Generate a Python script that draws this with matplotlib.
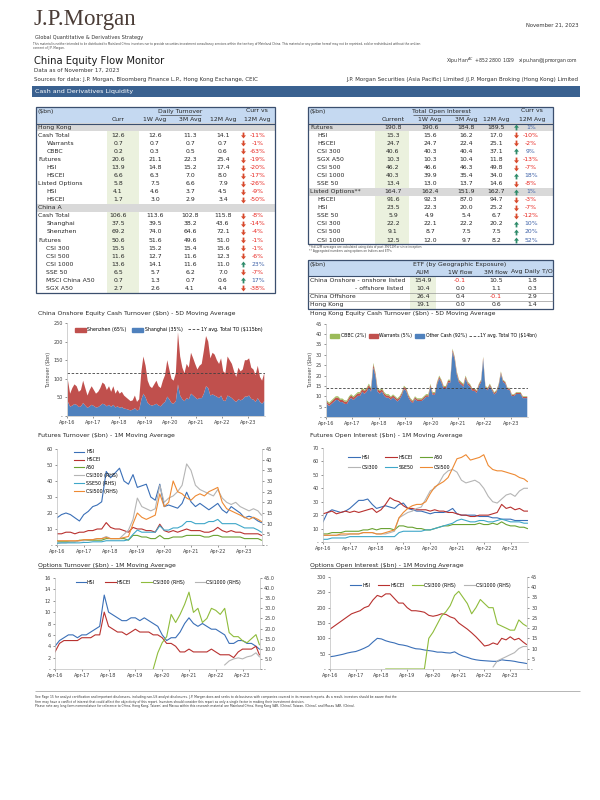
import numpy as np
import pandas as pd
import matplotlib
matplotlib.use("Agg")
import matplotlib.pyplot as plt
import matplotlib.dates as mdates
from matplotlib.patches import Rectangle, Patch
from matplotlib.lines import Line2D
from matplotlib.ticker import FuncFormatter, MultipleLocator

# ---------------------------------------------------------------- data
hk_rows = ["Cash Total", "Warrants", "CBBC", "Futures", "HSI", "HSCEI", "Listed Options", "HSI", "HSCEI"]
hk_level = [0, 1, 1, 0, 1, 1, 0, 1, 1]
hk_vals = [[12.6, 12.6, 11.3, 14.1], [0.7, 0.7, 0.7, 0.7], [0.2, 0.3, 0.5, 0.6], [20.6, 21.1, 22.3, 25.4],
           [13.9, 14.8, 15.2, 17.4], [6.6, 6.3, 7.0, 8.0], [5.8, 7.5, 6.6, 7.9], [4.1, 4.6, 3.7, 4.5],
           [1.7, 3.0, 2.9, 3.4]]
hk_pct = [-11, -1, -63, -19, -20, -17, -26, -9, -50]

ca_rows = ["Cash Total", "Shanghai", "Shenzhen", "Futures", "CSI 300", "CSI 500", "CSI 1000", "SSE 50",
           "MSCI China A50", "SGX A50"]
ca_level = [0, 1, 1, 0, 1, 1, 1, 1, 1, 1]
ca_vals = [[106.6, 113.6, 102.8, 115.8], [37.5, 39.5, 38.2, 43.6], [69.2, 74.0, 64.6, 72.1],
           [50.6, 51.6, 49.6, 51.0], [15.5, 15.2, 15.4, 15.6], [11.6, 12.7, 11.6, 12.3],
           [13.6, 14.1, 11.6, 11.0], [6.5, 5.7, 6.2, 7.0], [0.7, 1.3, 0.7, 0.6], [2.7, 2.6, 4.1, 4.4]]
ca_pct = [-8, -14, -4, -1, -1, -6, 23, -7, 17, -38]

oi_rows = ["Futures", "HSI", "HSCEI", "CSI 300", "SGX A50", "CSI 500", "CSI 1000", "SSE 50",
           "Listed Options**", "HSCEI", "HSI", "SSE 50", "CSI 300", "CSI 500", "CSI 1000"]
oi_level = [0, 1, 1, 1, 1, 1, 1, 1, 0, 1, 1, 1, 1, 1, 1]
oi_vals = [[190.8, 190.6, 184.8, 189.5], [15.3, 15.6, 16.2, 17.0], [24.7, 24.7, 22.4, 25.1],
           [40.6, 40.3, 40.4, 37.1], [10.3, 10.3, 10.4, 11.8], [46.2, 46.6, 46.3, 49.8],
           [40.3, 39.9, 35.4, 34.0], [13.4, 13.0, 13.7, 14.6], [164.7, 162.4, 151.9, 162.7],
           [91.6, 92.3, 87.0, 94.7], [23.5, 22.3, 20.0, 25.2], [5.9, 4.9, 5.4, 6.7],
           [22.2, 22.1, 22.2, 20.2], [9.1, 8.7, 7.5, 7.5], [12.5, 12.0, 9.7, 8.2]]
oi_pct = [1, -10, -2, 9, -13, -7, 18, -8, 1, -3, -7, -12, 10, 20, 52]

etf_rows = ["China Onshore - onshore listed", "- offshore listed", "China Offshore", "Hong Kong"]
etf_vals = [[154.9, -0.1, 10.5, 1.8], [10.4, 0.0, 1.1, 0.3], [26.4, 0.4, -0.1, 2.9], [19.1, 0.0, 0.6, 1.4]]

# China onshore cash turnover, monthly (Apr-16 .. Nov-23), $bn
shanghai = [38, 25, 28, 32, 30, 24, 26, 35, 28,
            22, 26, 30, 27, 23, 24, 28, 33, 31, 26, 30, 25,
            30, 23, 26, 22, 24, 20, 19, 17, 15, 17, 21, 15,
            17, 45, 60, 50, 35, 30, 28, 30, 33, 28, 26, 33,
            38, 52, 45, 35, 33, 40, 85, 55, 45, 40, 48, 45,
            60, 55, 50, 45, 48, 48, 60, 80, 75, 55, 58, 55,
            52, 48, 55, 42, 40, 55, 52, 48, 42, 38, 45, 42,
            45, 52, 52, 55, 46, 44, 38, 48, 38, 33, 40]
shenzhen = [57, 35, 47, 53, 50, 41, 44, 60, 47,
            33, 44, 50, 43, 37, 41, 47, 57, 54, 44, 50, 40,
            50, 37, 44, 38, 41, 35, 31, 28, 25, 25, 34, 23,
            28, 75, 100, 85, 60, 50, 47, 55, 62, 52, 49, 62,
            72, 98, 80, 65, 62, 75, 140, 105, 85, 75, 92, 85,
            110, 100, 90, 80, 87, 92, 115, 135, 125, 100, 112, 110,
            98, 92, 100, 78, 75, 105, 98, 92, 78, 67, 85, 78,
            80, 98, 98, 100, 84, 81, 72, 87, 67, 62, 75]
cn_avg = 115

# Hong Kong cash turnover, monthly, $bn
hk_other = [6.3, 5.3, 6.3, 7.2, 8.2, 8.2, 7.2, 7.2, 6.3,
            6.3, 8.2, 9.2, 8.2, 9.2, 10.2, 10.2, 12.2, 11.2, 12.2, 14.2, 12.2,
            24.0, 19.5, 12.3, 11.3, 12.3, 10.3, 9.3, 9.3, 8.4, 9.4, 8.5, 7.5,
            8.6, 10.6, 13.6, 12.6, 9.6, 7.6, 6.7, 8.7, 7.7, 7.7, 7.7, 8.7,
            9.7, 9.7, 14.6, 10.7, 10.7, 15.6, 18.6, 16.6, 13.6, 13.6, 16.6, 16.6,
            31.5, 27.5, 20.5, 16.6, 15.6, 14.6, 18.6, 15.6, 14.6, 12.6, 12.6, 11.6,
            14.9, 16.9, 27.8, 13.9, 12.9, 14.9, 12.9, 10.9, 11.9, 14.9, 20.8, 16.9,
            16.1, 13.1, 13.1, 10.1, 10.1, 11.1, 11.1, 11.1, 9.1, 9.1, 9.1]
hk_warrants = [1.1, 1.0, 1.1, 1.2, 1.2, 1.2, 1.1, 1.1, 1.1,
               1.1, 1.2, 1.2, 1.2, 1.2, 1.2, 1.2, 1.3, 1.3, 1.3, 1.3, 1.3,
               1.4, 1.3, 1.2, 1.2, 1.2, 1.1, 1.1, 1.1, 1.0, 1.0, 1.0, 1.0,
               1.0, 1.0, 1.0, 1.0, 0.9, 0.9, 0.8, 0.8, 0.8, 0.8, 0.8, 0.8,
               0.8, 0.8, 0.9, 0.8, 0.8, 0.9, 0.9, 0.9, 0.9, 0.9, 0.9, 0.9,
               1.0, 1.0, 1.0, 0.9, 0.9, 0.9, 0.9, 0.9, 0.9, 0.9, 0.9, 0.9,
               0.8, 0.8, 0.9, 0.8, 0.8, 0.8, 0.7, 0.7, 0.7, 0.7, 0.8, 0.7,
               0.7, 0.7, 0.7, 0.6, 0.6, 0.6, 0.6, 0.6, 0.6, 0.6, 0.6]
hk_cbbc = [0.6, 0.6, 0.6, 0.6, 0.6, 0.6, 0.6, 0.6, 0.6,
           0.6, 0.6, 0.6, 0.6, 0.6, 0.6, 0.6, 0.6, 0.6, 0.6, 0.6, 0.6,
           0.7, 0.6, 0.6, 0.6, 0.6, 0.6, 0.6, 0.6, 0.5, 0.5, 0.5, 0.5,
           0.5, 0.5, 0.5, 0.5, 0.5, 0.5, 0.5, 0.5, 0.5, 0.5, 0.5, 0.5,
           0.5, 0.5, 0.5, 0.5, 0.5, 0.5, 0.5, 0.5, 0.5, 0.5, 0.5, 0.5,
           0.5, 0.5, 0.5, 0.5, 0.5, 0.5, 0.5, 0.5, 0.4, 0.4, 0.4, 0.4,
           0.4, 0.4, 0.4, 0.4, 0.4, 0.4, 0.4, 0.4, 0.4, 0.4, 0.4, 0.4,
           0.3, 0.3, 0.3, 0.3, 0.3, 0.3, 0.3, 0.3, 0.3, 0.3, 0.3]
hk_avg = 14

# Bi-monthly samples (Apr-16, Jun-16, ... Oct-23, Nov-23)
fut_to_hsi = [17, 19, 20, 19, 17, 15, 19, 21, 24, 25, 27, 46, 42, 45, 48, 40, 38, 44, 36, 37, 38, 30, 28, 38,
              24, 25, 24, 23, 26, 33, 27, 24, 26, 24, 22, 24, 26, 22, 20, 24, 22, 20, 17, 18, 17, 15, 14]
fut_to_hscei = [7, 7, 8, 8, 7, 8, 8, 9, 9, 10, 10, 14, 11, 10, 10, 9, 8, 11, 10, 10, 9, 9, 8, 13,
                9, 8, 9, 8, 9, 10, 9, 9, 9, 8, 8, 9, 11, 9, 8, 9, 8, 8, 7, 7, 7, 7, 6]
fut_to_a50 = [2, 2, 2, 2, 2, 3, 3, 3, 3, 3, 3, 4, 4, 4, 4, 4, 3, 6, 6, 5, 5, 4, 4, 6,
              4, 4, 5, 5, 5, 6, 6, 6, 6, 5, 5, 6, 6, 5, 5, 5, 5, 5, 4, 4, 4, 4, 3]
fut_to_csi300 = [1, 1, 1, 1.5, 1.5, 2, 2, 2.5, 2.5, 3, 3, 4, 3, 3, 3, 5, 7, 12, 22, 18, 17, 16, 17, 28,
                 20, 22, 23, 25, 28, 38, 35, 28, 26, 25, 24, 23, 26, 22, 20, 19, 20, 18, 17, 16, 17, 16, 14]
fut_to_sse50 = [0.8, 1, 1, 1, 1, 1, 1.2, 1.2, 1.5, 1.5, 1.5, 2, 2, 2, 2, 2, 2.5, 5, 7, 6, 6, 6, 6, 9,
                7, 7, 8, 8, 9, 11, 11, 10, 10, 10, 11, 11, 12, 10, 10, 10, 10, 9, 8, 8, 8, 7, 6]
fut_to_csi500 = [2, 2, 2, 2, 2, 2, 2.5, 2.5, 2.5, 3, 3, 3.5, 3, 3, 3, 3.5, 4, 10, 15, 13, 12, 13, 14, 24,
                 18, 20, 30, 25, 24, 22, 21, 23, 24, 23, 25, 26, 27, 20, 17, 16, 15, 14, 13, 12, 13, 12, 11]

fut_oi_hsi = [15, 22, 24, 23, 22, 23, 25, 28, 31, 31, 32, 28, 25, 26, 27, 26, 25, 28, 29, 25, 24, 23, 23, 22,
              21, 22, 22, 22, 23, 25, 21, 20, 20, 20, 20, 19, 19, 19, 18, 18, 17, 17, 17, 16, 16, 16, 16]
fut_oi_hscei = [21, 22, 23, 21, 22, 23, 22, 23, 22, 23, 24, 25, 22, 24, 28, 33, 31, 30, 27, 25, 25, 24, 24, 24,
                23, 24, 23, 23, 22, 22, 21, 20, 20, 19, 19, 20, 20, 20, 21, 22, 28, 25, 26, 24, 25, 23, 23]
fut_oi_a50 = [6, 6, 7, 7, 7, 8, 8, 8, 8, 9, 9, 10, 9, 10, 10, 10, 9, 12, 12, 11, 11, 10, 10, 9,
              9, 10, 11, 12, 12, 13, 13, 13, 13, 13, 13, 14, 13, 13, 14, 13, 15, 13, 12, 12, 11, 11, 10]
fut_oi_csi300 = [5, 5, 5, 5, 5, 5, 6, 6, 6, 7, 7, 7, 6, 6, 6, 7, 8, 18, 20, 22, 23, 25, 26, 32,
                 38, 40, 44, 50, 53, 54, 52, 46, 44, 45, 46, 44, 40, 34, 30, 29, 32, 35, 36, 34, 38, 40, 40]
fut_oi_sse50 = [2, 2, 3, 3, 3, 3, 4, 4, 4, 4, 4, 4, 4, 4, 4, 4, 4, 7, 8, 8, 8, 8, 8, 9,
                9, 10, 11, 12, 13, 14, 16, 17, 16, 15, 15, 16, 16, 15, 15, 16, 17, 16, 15, 15, 15, 14, 14]
fut_oi_csi500 = [5, 5, 5, 5, 6, 6, 6, 6, 6, 7, 7, 7, 6, 6, 7, 8, 9, 18, 22, 25, 27, 28, 28, 30,
                 36, 41, 43, 45, 48, 55, 62, 63, 65, 61, 62, 63, 65, 57, 54, 53, 53, 52, 51, 50, 48, 47, 45]

nan = np.nan
opt_to_hsi = [4, 5, 5.5, 6, 6, 5.5, 6, 6, 6.5, 7, 7.5, 13, 10, 9.5, 9, 8.5, 8.5, 9, 9, 8.5, 9, 8.5, 8, 7.5,
              6, 5, 5.5, 5.5, 6.5, 8, 9, 8, 7.5, 8, 7.5, 7, 7, 6.5, 6, 4.5, 4.5, 5, 5, 4.5, 4.5, 4, 3.5]
opt_to_hscei = [3, 4.5, 5, 5, 5, 5, 5.5, 5.5, 5.5, 6, 6, 10, 7.5, 7, 6.5, 6.5, 6, 6.5, 7, 6.5, 6.5, 6.5, 6, 6,
                5.5, 4.5, 4.5, 4, 3, 3, 3.5, 3, 3, 3, 3, 3.5, 3, 2.5, 2.5, 2.5, 2, 3, 3.5, 3.5, 3.5, 4, 2.5]
opt_to_csi300 = [nan] * 22 + [0, 8, 13, 16, 27, 23, 27, 32, 38, 28, 30, 23, 25, 30, 29, 27, 30, 18, 16, 16,
                              14, 13, 15, 17, 12]
opt_to_csi1000 = [nan] * 38 + [2, 4, 5, 5.5, 5, 6, 6.5, 8, 6]

opt_oi_hsi = [40, 42, 45, 48, 52, 55, 57, 62, 68, 75, 88, 100, 98, 92, 88, 85, 80, 78, 75, 70, 66, 65, 62, 60,
              58, 55, 55, 53, 52, 56, 48, 42, 38, 33, 30, 28, 27, 26, 25, 25, 30, 28, 27, 25, 22, 20, 18]
opt_oi_hscei = [130, 140, 150, 160, 170, 180, 185, 190, 200, 205, 225, 240, 235, 245, 245, 230, 215, 215, 200,
                190, 190, 188, 185, 175, 172, 175, 180, 178, 170, 165, 150, 140, 130, 118, 105, 90, 75, 78,
                85, 80, 100, 95, 105, 95, 100, 88, 80]
opt_oi_csi300 = [nan] * 13 + [0, 0, 0, 0, 0, 0, 0, 0, 0, 0, 15, 18, 22, 26, 28, 31, 36, 38, 35, 32, 27, 30,
                              34, 32, 30, 30, 22, 21, 20, 19, 19, 24, 22, 21]
opt_oi_csi1000 = [nan] * 38 + [1, 4, 5, 6, 7, 8, 10, 11, 11]

months = pd.date_range("2016-04-01", periods=len(shanghai), freq="MS") + pd.Timedelta(days=14)
bimonths = list(pd.date_range("2016-04-01", periods=46, freq="2MS")) + [pd.Timestamp("2023-11-17")]

# ---------------------------------------------------------------- figure
W, H = 600, 800
fig = plt.figure(figsize=(6, 8), dpi=100)
fig.patch.set_facecolor("white")
bg = fig.add_axes([0, 0, 1, 1], zorder=0)
bg.set_xlim(0, W)
bg.set_ylim(H, 0)
bg.axis("off")

TXT = "#262626"
RED = "#e8231d"
BLUE_T = "#3f62a8"
HDR = "#c5d9f1"
GREY = "#d9d9d9"
GREEN_BG = "#ebf1de"
BORDER = "#3b4f6e"

# marker paths are in display orientation (y up)
ARROW_DN = [(-0.3, 1.0), (0.3, 1.0), (0.3, 0.05), (0.85, 0.05), (0.0, -1.0), (-0.85, 0.05), (-0.3, 0.05)]
ARROW_UP = [(x, -y) for x, y in ARROW_DN]


def txt(x, y, s, size=4.4, ha="left", va="center", color=TXT, **kw):
    bg.text(x, y, s, fontsize=size, ha=ha, va=va, color=color, **kw)


def rect(x0, y0, x1, y1, fc, ec="none", lw=0.0):
    bg.add_patch(Rectangle((x0, y0), x1 - x0, y1 - y0, facecolor=fc, edgecolor=ec, linewidth=lw))


def hline(x0, x1, y, color="#555555", lw=0.5):
    bg.plot([x0, x1], [y, y], color=color, lw=lw, solid_capstyle="butt")


# header
txt(33, 19, "J.P.Morgan", size=16.5, color="#4a3c36", family="Liberation Serif")
txt(35, 37.5, "Global Quantitative & Derivatives Strategy", size=3.6, color="#333333")
txt(33, 44.5, "This material is neither intended to be distributed to Mainland China investors nor to provide securities "
    "investment consultancy services within the territory of Mainland China. This material or any portion hereof may not be "
    "reprinted, sold or redistributed without the written", size=2.05, color="#444444")
txt(33, 48.5, "consent of J.P. Morgan.", size=2.05, color="#444444")
txt(578, 25, "November 21, 2023", size=3.8, ha="right", color="#333333")
txt(34, 61, "China Equity Flow Monitor", size=7.2, color="#1a1a1a")
txt(578, 61, "Xipu Han$^{AC}$  +852 2800 1029   xipu.han@jpmorgan.com", size=3.3, ha="right", color="#333333")
txt(34, 70.5, "Data as of November 17, 2023", size=4.0, color="#333333")
txt(34, 79, "Sources for data: J.P. Morgan, Bloomberg Finance L.P., Hong Kong Exchange, CEIC", size=4.0, color="#333333")
txt(578, 79, "J.P. Morgan Securities (Asia Pacific) Limited /J.P. Morgan Broking (Hong Kong) Limited", size=4.0,
    ha="right", color="#333333")
rect(32, 86, 580, 96.5, "#3a6190")
txt(35, 91.3, "Cash and Derivatives Liquidity", size=4.6, color="white")


def pct_cell(xa, xp, y, p):
    if p < 0:
        bg.plot([xa], [y], marker=ARROW_DN, markersize=4.2, color="#d8492c", markeredgewidth=0)
        txt(xp, y, f"{p}%", ha="center", color=RED)
    else:
        bg.plot([xa], [y], marker=ARROW_UP, markersize=4.2, color="#2e8b6a", markeredgewidth=0)
        txt(xp, y, f"{p}%", ha="center", color=BLUE_T)


# ---------------- left table (Daily turnover)
L0, L1 = 36, 275
top, hb = 107, 123.5
step = 8.05
y0 = 127.3
nrows = 2 + len(hk_rows) + len(ca_rows)
bottom = y0 + (nrows - 1) * step + 4.2
rect(L0, top, L1, hb, HDR)
rect(107, hb, 139, bottom, GREEN_BG)
colx = [118, 155, 190, 223]
txt(38, 111, "($bn)")
txt(180, 111, "Daily Turnover", ha="center")
hline(160, 201, 114.6, color=TXT, lw=0.4)
txt(257, 111, "Curr vs", ha="center")
for x, s in zip(colx, ["Curr", "1W Avg", "3M Avg", "12M Avg"]):
    txt(x, 119.5, s, ha="center")
txt(257, 119.5, "12M Avg", ha="center")
hline(L0, L1, hb, color=BORDER, lw=0.8)

r = 0
for sec, rows, lev, vals, pcts in [("Hong Kong", hk_rows, hk_level, hk_vals, hk_pct),
                                   ("China A", ca_rows, ca_level, ca_vals, ca_pct)]:
    y = y0 + r * step
    rect(L0, y - 4.0, L1, y + 4.0, GREY)
    txt(38, y, sec)
    r += 1
    for lab, lv, v, p in zip(rows, lev, vals, pcts):
        y = y0 + r * step
        txt(38 if lv == 0 else 46.5, y, lab)
        for x, val in zip(colx, v):
            txt(x, y, f"{val:.1f}", ha="center")
        pct_cell(243, 258, y, p)
        r += 1
bg.add_patch(Rectangle((L0, top), L1 - L0, bottom - top, facecolor="none", edgecolor=BORDER, linewidth=0.9))

# ---------------- right table (Total open interest)
R0, R1 = 308, 553
rb = y0 + (len(oi_rows) - 1) * step + 4.2
rect(R0, top, R1, hb, HDR)
rect(375, hb, 409, rb, GREEN_BG)
rcol = [393, 430, 466, 496]
txt(310, 111, "($bn)")
txt(441, 111, "Total Open Interest", ha="center")
hline(413, 469, 114.6, color=TXT, lw=0.4)
txt(532, 111, "Curr vs", ha="center")
for x, s in zip(rcol, ["Current", "1W Avg", "3M Avg", "12M Avg"]):
    txt(x, 119.5, s, ha="center")
txt(532, 119.5, "12M Avg", ha="center")
hline(R0, R1, hb, color=BORDER, lw=0.8)
for i, (lab, lv, v, p) in enumerate(zip(oi_rows, oi_level, oi_vals, oi_pct)):
    y = y0 + i * step
    if lv == 0:
        rect(R0, y - 4.0, R1, y + 4.0, GREY)
    txt(310 if lv == 0 else 317, y, lab)
    for x, val in zip(rcol, v):
        txt(x, y, f"{val:.1f}", ha="center")
    pct_cell(516, 531, y, p)
bg.add_patch(Rectangle((R0, top), R1 - R0, rb - top, facecolor="none", edgecolor=BORDER, linewidth=0.9))
txt(309, rb + 3.0, "*Ytd/12M averages are calculated using data of past 3M/12M or since inception", size=2.1, color="#444444")
txt(309, rb + 6.6, "** Aggregated numbers using options on Indices and ETFs", size=2.1, color="#444444")

# ---------------- ETF table
E0, E1, et, eh = 308, 553, 260, 276
ey = [280.6, 288.6, 296.8, 304.9]
eb = 309.2
rect(E0, et, E1, eh, HDR)
rect(410, eh, 436, eb, GREEN_BG)
ecol = [423, 460, 496, 532]
txt(310, 264.5, "($bn)")
txt(460, 264.5, "ETF (by Geographic Exposure)", ha="center")
for x, s in zip(ecol, ["AUM", "1W flow", "3M flow", "Avg Daily T/O"]):
    txt(x, 272, s, ha="center")
hline(E0, E1, eh, color=BORDER, lw=0.8)
hline(E0, E1, 292.7, color="#7f7f7f", lw=0.4)
hline(E0, E1, 300.9, color="#7f7f7f", lw=0.4)
for i, (lab, v) in enumerate(zip(etf_rows, etf_vals)):
    if lab.startswith("-"):
        txt(403, ey[i], lab, ha="right")
    else:
        txt(310, ey[i], lab)
    for x, val in zip(ecol, v):
        txt(x, ey[i], f"{val:.1f}", ha="center", color=RED if val < 0 else TXT)
bg.add_patch(Rectangle((E0, et), E1 - E0, eb - et, facecolor="none", edgecolor=BORDER, linewidth=0.9))

# ---------------------------------------------------------------- charts
XMIN, XMAX = pd.Timestamp("2016-04-01"), pd.Timestamp("2023-11-25")
TICKS = [pd.Timestamp(f"{y}-04-01") for y in range(2016, 2024)]
SP = "#bfbfbf"
TK = "#404040"


def mkax(l, t, r_, b):
    return fig.add_axes([l / W, 1 - b / H, (r_ - l) / W, (b - t) / H], zorder=2)


def dash0(fmt):
    return FuncFormatter(lambda v, p: "-" if abs(v) < 1e-9 else fmt.format(v))


def style(ax, ymax, ystep, fmt="{:.0f}"):
    ax.set_facecolor("none")
    ax.set_xlim(XMIN, XMAX)
    ax.set_ylim(0, ymax)
    ax.yaxis.set_major_locator(MultipleLocator(ystep))
    ax.yaxis.set_major_formatter(dash0(fmt))
    ax.set_xticks(TICKS)
    ax.xaxis.set_major_formatter(mdates.DateFormatter("%b-%y"))
    for s in ["top", "right"]:
        ax.spines[s].set_visible(False)
    for s in ["left", "bottom"]:
        ax.spines[s].set_color(SP)
        ax.spines[s].set_linewidth(0.5)
    ax.tick_params(labelsize=3.5, colors=TK, length=1.5, width=0.4, pad=1.5)
    for lab in ax.get_xticklabels():
        lab.set_color(TK)


def twin(ax, ymax, ystep, fmt="{:.0f}"):
    a2 = ax.twinx()
    a2.set_ylim(0, ymax)
    a2.yaxis.set_major_locator(MultipleLocator(ystep))
    a2.yaxis.set_major_formatter(dash0(fmt))
    for s in ["top", "left", "bottom"]:
        a2.spines[s].set_visible(False)
    a2.spines["right"].set_color(SP)
    a2.spines["right"].set_linewidth(0.5)
    a2.tick_params(labelsize=3.5, colors=TK, length=1.5, width=0.4, pad=1.5)
    return a2


C_BLUE, C_RED, C_GREEN = "#4f81bd", "#c0504d", "#9bbb59"

# chart 1: China onshore cash turnover
txt(38, 313, "China Onshore Equity Cash Turnover ($bn) - 5D Moving Average", size=4.4)
ax1 = mkax(67, 323, 265, 416)
style(ax1, 250, 50)
ax1.stackplot(months, shanghai, shenzhen, colors=[C_BLUE, C_RED], linewidth=0)
ax1.axhline(cn_avg, color="#404040", ls=(0, (3, 2)), lw=0.6)
ax1.set_ylabel("Turnover ($bn)", fontsize=3.5, color=TK, labelpad=2)
ax1.legend(handles=[Patch(color=C_RED, label="Shenzhen (65%)"), Patch(color=C_BLUE, label="Shanghai (35%)"),
                    Line2D([], [], color="#404040", ls=(0, (3, 2)), lw=0.6, label="1Y avg. Total TO ($115bn)")],
           loc="upper left", bbox_to_anchor=(0.02, 1.0), ncol=3, fontsize=3.4, frameon=False,
           handlelength=2.2, handleheight=0.9, columnspacing=1.2, handletextpad=0.4)

# chart 2: Hong Kong cash turnover
txt(310, 313, "Hong Kong Equity Cash Turnover ($bn) - 5D Moving Average", size=4.4)
ax2 = mkax(326, 323.7, 528, 417)
style(ax2, 45, 5)
ax2.stackplot(months, hk_other, hk_warrants, hk_cbbc, colors=[C_BLUE, C_RED, C_GREEN], linewidth=0)
ax2.axhline(hk_avg, color="#404040", ls=(0, (3, 2)), lw=0.6)
ax2.set_ylabel("Turnover ($bn)", fontsize=3.5, color=TK, labelpad=2)
ax2.legend(handles=[Patch(color=C_GREEN, label="CBBC (2%)"), Patch(color=C_RED, label="Warrants (5%)"),
                    Patch(color=C_BLUE, label="Other Cash (92%)"),
                    Line2D([], [], color="#404040", ls=(0, (3, 2)), lw=0.6, label="1Y avg. Total TO ($14bn)")],
           loc="upper left", bbox_to_anchor=(0.0, 0.94), ncol=4, fontsize=3.3, frameon=False,
           handlelength=2.0, handleheight=0.9, columnspacing=0.6, handletextpad=0.3)

L_HSI, L_HSCEI, L_A50 = "#3a6fb7", "#b8312f", "#6aa232"
L_300, L_SSE, L_500 = "#b5b5b5", "#3fa7c9", "#ee8a33"
LW = 0.8

# chart 3: futures turnover
txt(38, 435, "Futures Turnover ($bn) - 1M Moving Average", size=4.4)
ax3 = mkax(57, 449, 262, 545)
style(ax3, 60, 10)
a3 = twin(ax3, 45, 5)
h = []
h += ax3.plot(bimonths, fut_to_hsi, color=L_HSI, lw=LW, label="HSI")
h += ax3.plot(bimonths, fut_to_hscei, color=L_HSCEI, lw=LW, label="HSCEI")
h += ax3.plot(bimonths, fut_to_a50, color=L_A50, lw=LW, label="A50")
h += a3.plot(bimonths, fut_to_csi300, color=L_300, lw=LW, label="CSI300 (RHS)")
h += a3.plot(bimonths, fut_to_sse50, color=L_SSE, lw=LW, label="SSE50 (RHS)")
h += a3.plot(bimonths, fut_to_csi500, color=L_500, lw=LW, label="CSI500 (RHS)")
a3.legend(handles=h, loc="upper left", bbox_to_anchor=(0.06, 1.04), ncol=1, fontsize=3.4, frameon=False,
          handlelength=2.3, labelspacing=0.6, handletextpad=0.4)

# chart 4: futures open interest
txt(310, 435, "Futures Open Interest ($bn) - 1M Moving Average", size=4.4)
ax4 = mkax(323, 448, 528, 542)
style(ax4, 70, 10)
h4 = {}
h4["HSI"] = ax4.plot(bimonths, fut_oi_hsi, color=L_HSI, lw=LW, label="HSI")[0]
h4["HSCEI"] = ax4.plot(bimonths, fut_oi_hscei, color=L_HSCEI, lw=LW, label="HSCEI")[0]
h4["A50"] = ax4.plot(bimonths, fut_oi_a50, color=L_A50, lw=LW, label="A50")[0]
h4["CSI300"] = ax4.plot(bimonths, fut_oi_csi300, color=L_300, lw=LW, label="CSI300")[0]
h4["SSE50"] = ax4.plot(bimonths, fut_oi_sse50, color=L_SSE, lw=LW, label="SSE50")[0]
h4["CSI500"] = ax4.plot(bimonths, fut_oi_csi500, color=L_500, lw=LW, label="CSI500")[0]
ax4.legend(handles=[h4[k] for k in ["HSI", "CSI300", "HSCEI", "SSE50", "A50", "CSI500"]],
           loc="upper left", bbox_to_anchor=(0.1, 0.97), ncol=3, fontsize=3.4, frameon=False,
           handlelength=2.6, labelspacing=1.0, handletextpad=0.4, columnspacing=1.3)

# chart 5: options turnover
txt(38, 565, "Options Turnover ($bn) - 1M Moving Average", size=4.4)
hline(38, 165, 567.8, color=TXT, lw=0.4)
ax5 = mkax(55, 578, 260, 669)
style(ax5, 16, 2)
a5 = twin(ax5, 45, 5, fmt="{:.1f}")
h5 = []
h5 += ax5.plot(bimonths, opt_to_hsi, color=L_HSI, lw=LW, label="HSI")
h5 += ax5.plot(bimonths, opt_to_hscei, color=L_HSCEI, lw=LW, label="HSCEI")
h5 += a5.plot(bimonths, opt_to_csi300, color="#8fbc3c", lw=LW, label="CSI300 (RHS)")
h5 += a5.plot(bimonths, opt_to_csi1000, color=L_300, lw=LW, label="CSI1000 (RHS)")
a5.legend(handles=h5, loc="upper left", bbox_to_anchor=(0.08, 1.03), ncol=4, fontsize=3.4, frameon=False,
          handlelength=2.2, handletextpad=0.2, columnspacing=2.2)

# chart 6: options open interest
txt(310, 565, "Options Open Interest ($bn) - 1M Moving Average", size=4.4)
hline(310, 447, 567.8, color=TXT, lw=0.4)
ax6 = mkax(330, 577, 527, 669)
style(ax6, 300, 50)
a6 = twin(ax6, 45, 5)
h6 = []
h6 += ax6.plot(bimonths, opt_oi_hsi, color=L_HSI, lw=LW, label="HSI")
h6 += ax6.plot(bimonths, opt_oi_hscei, color=L_HSCEI, lw=LW, label="HSCEI")
h6 += a6.plot(bimonths, opt_oi_csi300, color="#8fbc3c", lw=LW, label="CSI300 (RHS)")
h6 += a6.plot(bimonths, opt_oi_csi1000, color=L_300, lw=LW, label="CSI1000 (RHS)")
a6.legend(handles=h6, loc="upper left", bbox_to_anchor=(0.08, 0.98), ncol=4, fontsize=3.4, frameon=False,
          handlelength=2.4, handletextpad=0.2, columnspacing=1.6)

# footer
hline(35, 580, 691, color="#999999", lw=0.5)
foot = ["See Page 15 for analyst certification and important disclosures, including non-US analyst disclosures. J.P. Morgan does "
        "and seeks to do business with companies covered in its research reports. As a result, investors should be aware that the",
        "firm may have a conflict of interest that could affect the objectivity of this report. Investors should consider this "
        "report as only a single factor in making their investment decision.",
        "Please note any long form nomenclature for reference to China; Hong Kong; Taiwan; and Macau within this research material "
        "are Mainland China; Hong Kong SAR, (China); Taiwan, (China); and Macau SAR, (China)."]
for i, s in enumerate(foot):
    txt(35, 697 + i * 4.6, s, size=2.2, color="#333333")

fig.savefig("out.png", dpi=100, facecolor="white")
